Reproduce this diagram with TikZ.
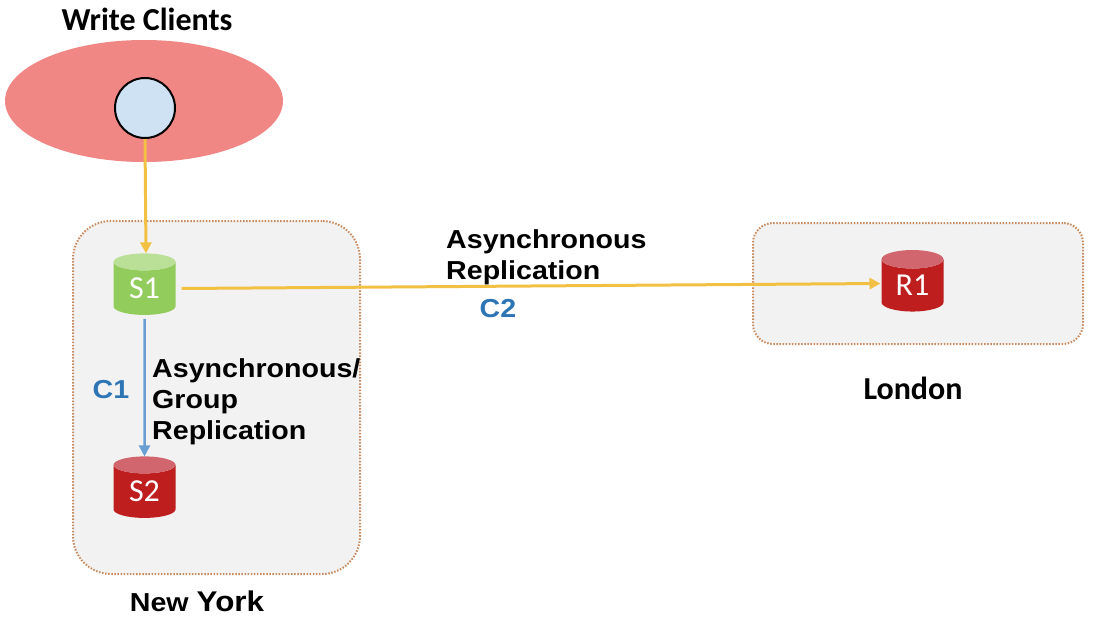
\documentclass[tikz,border=0pt]{standalone}
\usepackage{fontspec}
\usetikzlibrary{shapes.geometric,arrows.meta}
\setmainfont{Liberation Sans}
\newfontfamily\carl{Carlito}
\newfontfamily\arb[FakeStretch=1.10]{Liberation Sans}
\definecolor{ellred}{HTML}{F08784}
\definecolor{circblue}{HTML}{CFE2F3}
\definecolor{boxfill}{HTML}{F2F2F2}
\definecolor{boxline}{HTML}{C98A5E}
\definecolor{yel}{HTML}{F2C043}
\definecolor{blu}{HTML}{6A9FD4}
\definecolor{lbl}{HTML}{2E75B6}
\definecolor{grn}{HTML}{92CC5C}
\definecolor{grntop}{HTML}{BADF96}
\definecolor{rd}{HTML}{BE1E1E}
\definecolor{rdtop}{HTML}{D2666E}
\tikzset{
  region/.style={draw=boxline,fill=boxfill,line width=2pt,dash pattern=on 1.5pt off 1.6pt},
  cyl/.style={cylinder,shape border rotate=90,aspect=0.55,minimum width=62pt,minimum height=61.5pt,inner sep=0pt,outer sep=0pt,
    cylinder uses custom fill,text=white,font=\carl\fontsize{32}{32}\selectfont},
  greencyl/.style={cyl,cylinder body fill=grn,cylinder end fill=grntop},
  redcyl/.style={cyl,cylinder body fill=rd,cylinder end fill=rdtop},
  head/.style={font=\carl\bfseries\fontsize{32}{36}\selectfont,text=black,inner sep=0pt},
  rep/.style={font=\arb\bfseries\fontsize{26}{31}\selectfont,text=black,align=left,inner sep=0pt,anchor=west},
  tag/.style={font=\arb\bfseries\fontsize{26}{31}\selectfont,text=lbl,inner sep=0pt},
  yline/.style={draw=yel,line width=3pt,-{Triangle[length=11pt,width=11pt]}},
  bline/.style={draw=blu,line width=2.5pt,-{Triangle[length=11pt,width=11pt]}},
}
\begin{document}
\begin{tikzpicture}[x=1pt,y=-1pt]
\useasboundingbox (0,0) rectangle (1104,624);
\node[head] (wc) at (147,19.5) {Write Clients};
\node[ellipse,fill=ellred,minimum width=278pt,minimum height=122pt,inner sep=0pt] (cloud) at (144,101) {};
\node[region,rounded corners=38pt,minimum width=287pt,minimum height=353pt,inner sep=0pt] (ny) at (216.5,397.5) {};
\node[region,rounded corners=20pt,minimum width=330pt,minimum height=121pt,inner sep=0pt] (lon) at (918,283.5) {};
\node[circle,draw=black,line width=2pt,fill=circblue,minimum size=60pt,inner sep=0pt] (cl) at (145,108) {};
\node[greencyl] (s1) at (144.5,288.5) {S1};
\node[redcyl] (s2) at (144.5,491.5) {S2};
\node[redcyl] (r1) at (912.5,285.5) {R1};
\draw[yline] (cl.south) -- ([xshift=1.5pt]s1.north);
\draw[yline] ([xshift=6pt,yshift=0pt]s1.east) -- ([xshift=-1pt,yshift=2pt]r1.west);
\draw[bline] ([yshift=-4pt]s1.south) -- (s2.north);
\node[rep] (r1lab) at (446,257.5) {Asynchronous\\Replication};
\node[tag] (c2) at (498,309) {C2};
\node[rep] (r2lab) at (152,402) {Asynchronous/\\Group\\Replication};
\node[tag] (c1) at (111,390) {C1};
\node[head] (ldn) at (913,388) {London};
\node[font=\arb\bfseries\fontsize{26}{31}\selectfont,inner sep=0pt] (nyl) at (197,601) {New {\fontsize{28.5}{31}\selectfont York}};
\end{tikzpicture}
\end{document}
